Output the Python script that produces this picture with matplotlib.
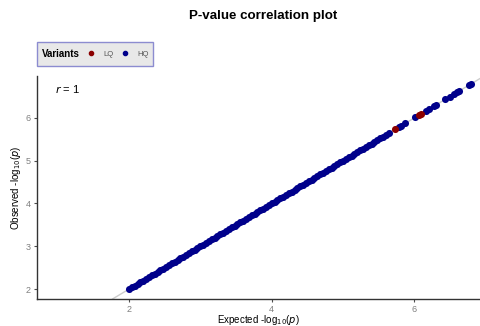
import matplotlib.pyplot as plt
from matplotlib.lines import Line2D
from matplotlib.patches import Rectangle

plt.rcParams['font.family'] = ['Liberation Sans', 'DejaVu Sans']

# HQ variants (expected vs observed -log10 p)
hq_expected = [2.00, 2.04, 2.08, 2.12, 2.16, 2.20, 2.24, 2.28, 2.32, 2.36,
               2.40, 2.44, 2.48, 2.52, 2.56, 2.60, 2.64, 2.68, 2.72, 2.76,
               2.80, 2.84, 2.88, 2.92, 2.96, 3.00, 3.04, 3.08, 3.12, 3.16,
               3.20, 3.24, 3.28, 3.32, 3.36, 3.40, 3.44, 3.48, 3.52, 3.56,
               3.60, 3.64, 3.68, 3.72, 3.76, 3.80, 3.84, 3.88, 3.92, 3.96,
               4.00, 4.04, 4.08, 4.12, 4.16, 4.20, 4.24, 4.28, 4.32, 4.36,
               4.40, 4.44, 4.48, 4.52, 4.56, 4.60, 4.64, 4.68, 4.72, 4.76,
               4.80, 4.84, 4.88, 4.92, 4.96, 5.00, 5.04, 5.08, 5.12, 5.16,
               5.20, 5.24, 5.28, 5.32, 5.36, 5.40, 5.44, 5.48, 5.52, 5.56,
               5.60, 5.64, 5.78, 5.81, 5.87, 6.01, 6.16, 6.20,
               6.27, 6.30, 6.43, 6.50, 6.56, 6.60, 6.63, 6.76, 6.79]
hq_observed = list(hq_expected)

# LQ variants
lq_expected = [5.73, 6.07, 6.10]
lq_observed = [5.73, 6.07, 6.10]

r_value = 1

fig = plt.figure(figsize=(4.81, 3.26), dpi=100)
ax = fig.add_axes([0.0769, 0.083, 0.921, 0.684])

# identity line
ax.axline((0, 0), (1, 1), color='#cccccc', lw=1, zorder=1)

ax.scatter(hq_expected, hq_observed, s=26, color='#00008B', linewidths=0, zorder=2)
ax.scatter(lq_expected, lq_observed, s=26, color='#8B0000', linewidths=0, zorder=3)

ax.set_xlim(0.71, 6.92)
ax.set_ylim(1.77, 6.98)
ax.set_xticks([2, 4, 6])
ax.set_yticks([2, 3, 4, 5, 6])

for side in ['top', 'right']:
    ax.spines[side].set_visible(False)
for side in ['left', 'bottom']:
    ax.spines[side].set_color('#333333')
    ax.spines[side].set_linewidth(1.0)
ax.tick_params(axis='both', labelsize=6.5, colors='#4d4d4d', length=2.5, width=0.8, pad=2)
for lab in ax.get_xticklabels() + ax.get_yticklabels():
    lab.set_color('#7f7f7f')

ax.set_xlabel('Expected -log$_{10}$($p$)', fontsize=7)
ax.xaxis.set_label_coords(0.5, -0.065)
ax.set_ylabel('Observed -log$_{10}$($p$)', fontsize=7, labelpad=2)

ax.text(0.04, 0.94, '$r$ = %d' % r_value, transform=ax.transAxes, fontsize=8,
        va='center', ha='left')

fig.text(0.548, 0.952, 'P-value correlation plot', fontsize=9.6, fontweight='bold',
         ha='center', va='center')

# legend box: "Variants" title on the left, then LQ / HQ keys
fig.patches.append(Rectangle((0.077, 0.7975), 0.241, 0.0736, transform=fig.transFigure,
                             facecolor='#e8e8e8', edgecolor='#8c8cd0', lw=1.0))
fig.text(0.087, 0.834, 'Variants', fontsize=7, fontweight='bold', ha='left', va='center')
handles = [Line2D([], [], marker='o', linestyle='none', color='#8B0000', markersize=3),
           Line2D([], [], marker='o', linestyle='none', color='#00008B', markersize=3)]
leg = fig.legend(handles, ['LQ', 'HQ'], loc='center left',
                 bbox_to_anchor=(87.2 / 481, 0.834), ncol=2, fontsize=5.5,
                 frameon=False, handlelength=1.0, borderaxespad=0, borderpad=0,
                 handletextpad=1.08, columnspacing=1.08)
for t in leg.get_texts():
    t.set_color('#555555')

fig.savefig('out.png', dpi=100)
